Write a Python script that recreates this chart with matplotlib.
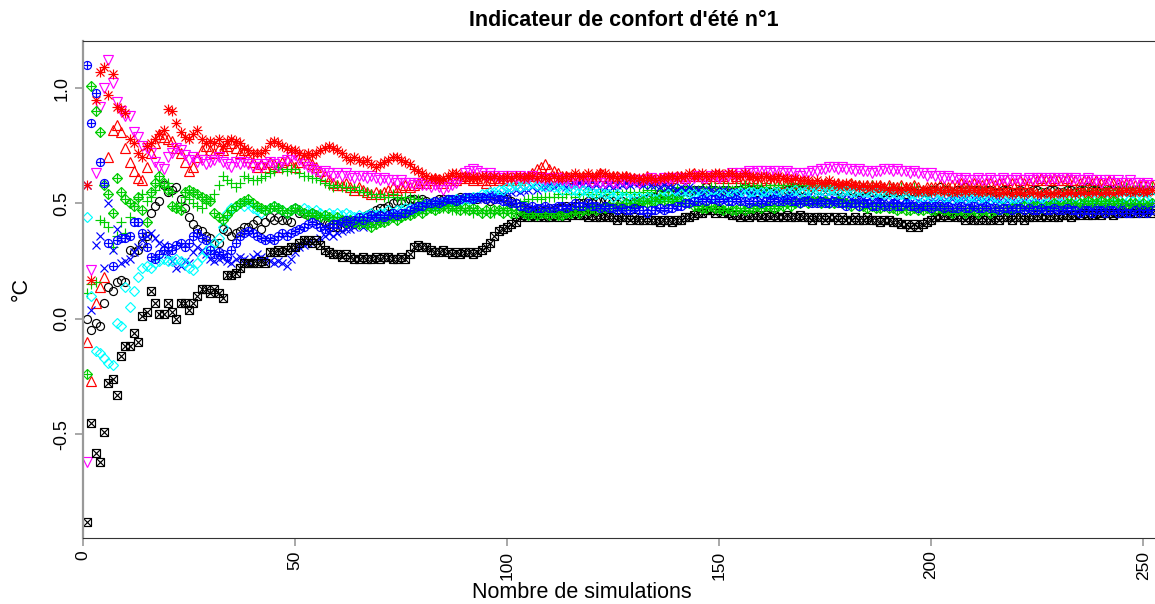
import numpy as np
import matplotlib
matplotlib.use("Agg")
import matplotlib.pyplot as plt

# -------------------------
# Data (running indicator per simulation count, one list per series)
# -------------------------

black_circle = [
    0.00, -0.05, -0.02, -0.03, 0.07, 0.14, 0.12, 0.16, 0.17, 0.16,
    0.30, 0.29, 0.30, 0.33, 0.36, 0.46, 0.49, 0.51, 0.58, 0.55,
    0.56, 0.57, 0.52, 0.48, 0.44, 0.41, 0.39, 0.38, 0.36, 0.35,
    0.33, 0.33, 0.39, 0.38, 0.36, 0.37, 0.38, 0.40, 0.40, 0.41,
    0.43, 0.39, 0.42, 0.44, 0.43, 0.44, 0.43, 0.43, 0.42, 0.48,
    0.46, 0.46, 0.45, 0.46, 0.45, 0.43, 0.42, 0.41, 0.40, 0.40,
    0.40, 0.41, 0.42, 0.41, 0.43, 0.44, 0.45, 0.46, 0.47, 0.48,
    0.48, 0.49, 0.50, 0.51, 0.50, 0.51, 0.52, 0.52, 0.51, 0.52,
    0.51, 0.50, 0.51, 0.52, 0.52, 0.52, 0.51, 0.52, 0.53, 0.52,
    0.52, 0.53, 0.52, 0.53, 0.52, 0.51, 0.52, 0.53, 0.53, 0.52,
    0.51, 0.50, 0.49, 0.48, 0.47, 0.47, 0.46, 0.47, 0.47, 0.48,
    0.47, 0.48, 0.48, 0.49, 0.48, 0.49, 0.50, 0.50, 0.51, 0.50,
    0.51, 0.51, 0.52, 0.51, 0.51, 0.50, 0.51, 0.50, 0.50, 0.51,
    0.51, 0.52, 0.52, 0.53, 0.53, 0.54, 0.54, 0.55, 0.54, 0.55,
    0.55, 0.56, 0.55, 0.56, 0.56, 0.56, 0.57, 0.56, 0.56, 0.55,
    0.56, 0.56, 0.55, 0.56, 0.56, 0.57, 0.56, 0.56, 0.55, 0.56,
    0.55, 0.55, 0.54, 0.55, 0.55, 0.56, 0.56, 0.57, 0.56, 0.56,
    0.56, 0.57, 0.56, 0.56, 0.57, 0.56, 0.56, 0.56, 0.55, 0.56,
    0.56, 0.55, 0.55, 0.56, 0.56, 0.55, 0.55, 0.54, 0.55, 0.55,
    0.56, 0.55, 0.55, 0.54, 0.55, 0.55, 0.56, 0.55, 0.55, 0.56,
    0.56, 0.57, 0.56, 0.56, 0.55, 0.56, 0.56, 0.57, 0.56, 0.56,
    0.56, 0.55, 0.56, 0.56, 0.55, 0.55, 0.56, 0.56, 0.55, 0.55,
    0.56, 0.55, 0.55, 0.56, 0.56, 0.55, 0.55, 0.56, 0.56, 0.55,
    0.55, 0.56, 0.56, 0.55, 0.56, 0.56, 0.57, 0.56, 0.56, 0.56,
    0.55, 0.56, 0.56, 0.57, 0.56, 0.56, 0.55, 0.56, 0.56, 0.55,
    0.56, 0.56,
]

red_triangle = [
    -0.10, -0.27, 0.07, 0.14, 0.18, 0.70, 0.82, 0.84, 0.81, 0.74,
    0.68, 0.64, 0.61, 0.60, 0.66, 0.72, 0.76, 0.80, 0.79, 0.78,
    0.77, 0.74, 0.72, 0.68, 0.64, 0.66, 0.70, 0.73, 0.75, 0.73,
    0.72, 0.74, 0.73, 0.75, 0.76, 0.74, 0.72, 0.73, 0.70, 0.68,
    0.66, 0.67, 0.66, 0.68, 0.67, 0.66, 0.68, 0.69, 0.67, 0.66,
    0.68, 0.70, 0.69, 0.67, 0.66, 0.64, 0.62, 0.60, 0.59, 0.58,
    0.58, 0.59, 0.57, 0.56, 0.57, 0.56, 0.55, 0.54, 0.55, 0.54,
    0.55, 0.56, 0.57, 0.56, 0.57, 0.58, 0.57, 0.58, 0.59, 0.60,
    0.59, 0.60, 0.61, 0.60, 0.59, 0.60, 0.61, 0.60, 0.61, 0.62,
    0.61, 0.60, 0.61, 0.60, 0.59, 0.60, 0.61, 0.60, 0.61, 0.60,
    0.60, 0.61, 0.60, 0.61, 0.62, 0.63, 0.65, 0.66, 0.67, 0.65,
    0.64, 0.63, 0.62, 0.62, 0.61, 0.62, 0.61, 0.62, 0.62, 0.61,
    0.62, 0.63, 0.62, 0.61, 0.62, 0.62, 0.61, 0.62, 0.61, 0.61,
    0.60, 0.61, 0.62, 0.61, 0.60, 0.61, 0.61, 0.60, 0.61, 0.62,
    0.62, 0.61, 0.62, 0.63, 0.62, 0.62, 0.61, 0.62, 0.62, 0.61,
    0.62, 0.61, 0.61, 0.62, 0.61, 0.61, 0.60, 0.61, 0.60, 0.60,
    0.61, 0.60, 0.60, 0.59, 0.60, 0.59, 0.59, 0.60, 0.59, 0.59,
    0.58, 0.59, 0.59, 0.58, 0.59, 0.58, 0.58, 0.59, 0.58, 0.58,
    0.59, 0.58, 0.58, 0.57, 0.58, 0.58, 0.57, 0.58, 0.57, 0.58,
    0.57, 0.57, 0.58, 0.57, 0.57, 0.58, 0.57, 0.56, 0.57, 0.57,
    0.57, 0.58, 0.57, 0.57, 0.58, 0.58, 0.59, 0.58, 0.58, 0.59,
    0.58, 0.58, 0.59, 0.59, 0.58, 0.59, 0.59, 0.60, 0.59, 0.59,
    0.60, 0.59, 0.59, 0.60, 0.60, 0.61, 0.60, 0.60, 0.61, 0.60,
    0.60, 0.61, 0.60, 0.60, 0.59, 0.60, 0.60, 0.59, 0.60, 0.59,
    0.59, 0.60, 0.59, 0.59, 0.58, 0.59, 0.59, 0.58, 0.58, 0.59,
    0.58, 0.58,
]

green_plus = [
    0.11, 0.15, 0.16, 0.43, 0.42, 0.40, 0.31, 0.36, 0.42, 0.37,
    0.44, 0.49, 0.52, 0.54, 0.51, 0.53, 0.56, 0.58, 0.57, 0.59,
    0.55, 0.49, 0.50, 0.53, 0.52, 0.50, 0.49, 0.48, 0.50, 0.52,
    0.54, 0.58, 0.62, 0.60, 0.59, 0.57, 0.59, 0.62, 0.61, 0.60,
    0.60, 0.61, 0.62, 0.63, 0.64, 0.66, 0.65, 0.64, 0.65, 0.65,
    0.63, 0.62, 0.62, 0.61, 0.61, 0.60, 0.59, 0.58, 0.57, 0.58,
    0.57, 0.57, 0.56, 0.57, 0.56, 0.55, 0.55, 0.54, 0.53, 0.54,
    0.53, 0.53, 0.54, 0.53, 0.52, 0.53, 0.53, 0.52, 0.52, 0.51,
    0.50, 0.50, 0.49, 0.49, 0.48, 0.48, 0.47, 0.47, 0.48, 0.47,
    0.47, 0.46, 0.47, 0.46, 0.47, 0.47, 0.46, 0.47, 0.48, 0.48,
    0.49, 0.50, 0.50, 0.51, 0.52, 0.52, 0.53, 0.52, 0.53, 0.53,
    0.53, 0.54, 0.53, 0.54, 0.54, 0.53, 0.54, 0.54, 0.55, 0.54,
    0.54, 0.55, 0.55, 0.54, 0.55, 0.55, 0.54, 0.55, 0.55, 0.54,
    0.55, 0.55, 0.56, 0.55, 0.56, 0.56, 0.55, 0.56, 0.56, 0.57,
    0.56, 0.56, 0.57, 0.56, 0.56, 0.57, 0.56, 0.57, 0.57, 0.56,
    0.57, 0.57, 0.56, 0.57, 0.57, 0.58, 0.57, 0.57, 0.58, 0.57,
    0.57, 0.58, 0.58, 0.57, 0.58, 0.58, 0.59, 0.58, 0.58, 0.59,
    0.58, 0.58, 0.59, 0.58, 0.58, 0.57, 0.58, 0.58, 0.57, 0.58,
    0.58, 0.57, 0.58, 0.57, 0.57, 0.58, 0.57, 0.57, 0.56, 0.57,
    0.57, 0.56, 0.57, 0.56, 0.56, 0.57, 0.56, 0.56, 0.55, 0.56,
    0.56, 0.55, 0.56, 0.56, 0.55, 0.55, 0.56, 0.55, 0.55, 0.56,
    0.55, 0.55, 0.56, 0.55, 0.55, 0.54, 0.55, 0.55, 0.54, 0.55,
    0.55, 0.54, 0.55, 0.55, 0.54, 0.55, 0.55, 0.54, 0.55, 0.55,
    0.55, 0.56, 0.55, 0.55, 0.56, 0.56, 0.55, 0.56, 0.56, 0.55,
    0.56, 0.56, 0.55, 0.56, 0.56, 0.57, 0.56, 0.56, 0.57, 0.56,
    0.56, 0.57,
]

blue_cross = [
    0.58, 0.04, 0.32, 0.36, 0.22, 0.50, 0.30, 0.39, 0.24, 0.25,
    0.26, 0.29, 0.31, 0.34, 0.36, 0.37, 0.35, 0.33, 0.32, 0.28,
    0.25, 0.22, 0.23, 0.25, 0.24, 0.29, 0.31, 0.30, 0.28, 0.26,
    0.25, 0.26, 0.27, 0.25, 0.24, 0.26, 0.27, 0.26, 0.25, 0.27,
    0.28, 0.27, 0.26, 0.25, 0.24, 0.25, 0.24, 0.23, 0.26, 0.29,
    0.31, 0.32, 0.33, 0.33, 0.34, 0.35, 0.36, 0.37, 0.36, 0.37,
    0.38, 0.39, 0.39, 0.40, 0.41, 0.40, 0.41, 0.42, 0.42, 0.43,
    0.43, 0.44, 0.44, 0.45, 0.45, 0.46, 0.46, 0.47, 0.47, 0.48,
    0.48, 0.49, 0.49, 0.50, 0.50, 0.51, 0.50, 0.51, 0.52, 0.52,
    0.52, 0.53, 0.52, 0.53, 0.53, 0.54, 0.54, 0.53, 0.54, 0.55,
    0.55, 0.56, 0.55, 0.56, 0.56, 0.57, 0.56, 0.57, 0.57, 0.58,
    0.57, 0.58, 0.58, 0.57, 0.58, 0.58, 0.59, 0.58, 0.58, 0.57,
    0.58, 0.57, 0.57, 0.58, 0.57, 0.58, 0.58, 0.59, 0.58, 0.59,
    0.59, 0.58, 0.59, 0.58, 0.58, 0.57, 0.58, 0.57, 0.57, 0.56,
    0.57, 0.56, 0.57, 0.56, 0.56, 0.55, 0.56, 0.56, 0.55, 0.55,
    0.56, 0.55, 0.55, 0.54, 0.55, 0.55, 0.54, 0.54, 0.55, 0.54,
    0.54, 0.53, 0.54, 0.54, 0.53, 0.53, 0.54, 0.53, 0.53, 0.52,
    0.53, 0.53, 0.52, 0.52, 0.53, 0.52, 0.52, 0.53, 0.52, 0.52,
    0.52, 0.51, 0.52, 0.52, 0.51, 0.51, 0.52, 0.51, 0.51, 0.50,
    0.51, 0.51, 0.50, 0.51, 0.50, 0.50, 0.51, 0.50, 0.50, 0.51,
    0.51, 0.52, 0.51, 0.51, 0.52, 0.51, 0.52, 0.52, 0.51, 0.52,
    0.52, 0.51, 0.51, 0.52, 0.51, 0.51, 0.50, 0.51, 0.51, 0.50,
    0.50, 0.51, 0.50, 0.50, 0.51, 0.50, 0.50, 0.49, 0.50, 0.50,
    0.49, 0.50, 0.50, 0.49, 0.49, 0.50, 0.49, 0.49, 0.50, 0.49,
    0.49, 0.50, 0.49, 0.49, 0.50, 0.50, 0.49, 0.49, 0.50, 0.49,
    0.49, 0.50,
]

cyan_diamond = [
    0.44, 0.10, -0.14, -0.15, -0.17, -0.19, -0.20, -0.02, -0.03, 0.14,
    0.05, 0.12, 0.18, 0.22, 0.23, 0.22, 0.24, 0.25, 0.26, 0.25,
    0.25, 0.26, 0.25, 0.24, 0.22, 0.21, 0.24, 0.27, 0.29, 0.31,
    0.33, 0.35, 0.40, 0.46, 0.48, 0.49, 0.50, 0.49, 0.50, 0.48,
    0.47, 0.46, 0.47, 0.48, 0.49, 0.48, 0.47, 0.46, 0.47, 0.48,
    0.47, 0.48, 0.47, 0.46, 0.47, 0.46, 0.45, 0.46, 0.45, 0.46,
    0.45, 0.46, 0.45, 0.44, 0.45, 0.44, 0.45, 0.46, 0.45, 0.46,
    0.46, 0.47, 0.46, 0.47, 0.47, 0.48, 0.48, 0.47, 0.48, 0.49,
    0.49, 0.50, 0.49, 0.50, 0.50, 0.51, 0.51, 0.52, 0.51, 0.52,
    0.52, 0.53, 0.53, 0.54, 0.54, 0.55, 0.55, 0.56, 0.56, 0.57,
    0.57, 0.58, 0.57, 0.58, 0.58, 0.59, 0.58, 0.58, 0.57, 0.58,
    0.57, 0.57, 0.56, 0.57, 0.56, 0.56, 0.55, 0.56, 0.55, 0.55,
    0.54, 0.55, 0.54, 0.54, 0.53, 0.54, 0.53, 0.53, 0.52, 0.53,
    0.53, 0.52, 0.53, 0.53, 0.52, 0.53, 0.53, 0.54, 0.53, 0.53,
    0.54, 0.53, 0.54, 0.54, 0.53, 0.54, 0.54, 0.53, 0.53, 0.54,
    0.54, 0.53, 0.54, 0.54, 0.55, 0.54, 0.55, 0.55, 0.54, 0.55,
    0.55, 0.54, 0.55, 0.55, 0.54, 0.55, 0.55, 0.56, 0.55, 0.55,
    0.56, 0.55, 0.56, 0.56, 0.55, 0.56, 0.56, 0.55, 0.55, 0.56,
    0.55, 0.55, 0.56, 0.55, 0.55, 0.54, 0.55, 0.55, 0.54, 0.54,
    0.55, 0.54, 0.54, 0.53, 0.54, 0.54, 0.53, 0.53, 0.54, 0.53,
    0.53, 0.54, 0.53, 0.53, 0.52, 0.53, 0.53, 0.52, 0.53, 0.53,
    0.52, 0.53, 0.52, 0.52, 0.53, 0.52, 0.52, 0.51, 0.52, 0.52,
    0.51, 0.52, 0.52, 0.51, 0.52, 0.52, 0.51, 0.51, 0.52, 0.51,
    0.51, 0.52, 0.52, 0.53, 0.52, 0.53, 0.53, 0.52, 0.53, 0.53,
    0.52, 0.53, 0.53, 0.52, 0.53, 0.53, 0.52, 0.52, 0.53, 0.52,
    0.52, 0.53,
]

magenta_triangle = [
    -0.62, 0.21, 0.63, 0.92, 1.00, 1.12, 1.02, 0.94, 0.90, 0.88,
    0.88, 0.81, 0.79, 0.75, 0.74, 0.72, 0.68, 0.66, 0.65, 0.70,
    0.72, 0.74, 0.73, 0.71, 0.69, 0.70, 0.68, 0.69, 0.67, 0.68,
    0.69, 0.70, 0.68, 0.67, 0.66, 0.68, 0.67, 0.68, 0.67, 0.66,
    0.67, 0.66, 0.67, 0.68, 0.67, 0.66, 0.68, 0.69, 0.70, 0.71,
    0.69, 0.67, 0.66, 0.65, 0.64, 0.63, 0.64, 0.63, 0.62, 0.63,
    0.62, 0.63, 0.62, 0.61, 0.62, 0.62, 0.61, 0.62, 0.61, 0.60,
    0.61, 0.60, 0.60, 0.59, 0.60, 0.59, 0.59, 0.58, 0.59, 0.58,
    0.58, 0.57, 0.58, 0.57, 0.56, 0.57, 0.58, 0.59, 0.61, 0.63,
    0.64, 0.65, 0.64, 0.63, 0.62, 0.63, 0.62, 0.61, 0.62, 0.61,
    0.62, 0.61, 0.62, 0.61, 0.61, 0.62, 0.61, 0.61, 0.60, 0.61,
    0.60, 0.61, 0.60, 0.60, 0.59, 0.60, 0.59, 0.60, 0.60, 0.59,
    0.60, 0.59, 0.59, 0.60, 0.59, 0.59, 0.60, 0.59, 0.60, 0.60,
    0.59, 0.60, 0.60, 0.61, 0.60, 0.60, 0.61, 0.60, 0.61, 0.61,
    0.61, 0.60, 0.61, 0.61, 0.62, 0.61, 0.61, 0.62, 0.62, 0.61,
    0.62, 0.62, 0.63, 0.62, 0.63, 0.63, 0.64, 0.63, 0.64, 0.64,
    0.64, 0.63, 0.64, 0.64, 0.63, 0.64, 0.63, 0.63, 0.62, 0.63,
    0.63, 0.64, 0.64, 0.65, 0.65, 0.66, 0.66, 0.65, 0.66, 0.65,
    0.65, 0.64, 0.65, 0.64, 0.64, 0.63, 0.64, 0.64, 0.65, 0.65,
    0.64, 0.65, 0.64, 0.64, 0.63, 0.64, 0.63, 0.63, 0.62, 0.63,
    0.62, 0.62, 0.61, 0.62, 0.61, 0.61, 0.60, 0.61, 0.60, 0.60,
    0.61, 0.60, 0.60, 0.61, 0.60, 0.60, 0.61, 0.60, 0.60, 0.61,
    0.60, 0.60, 0.61, 0.60, 0.61, 0.61, 0.60, 0.61, 0.61, 0.60,
    0.61, 0.61, 0.60, 0.61, 0.60, 0.60, 0.61, 0.60, 0.60, 0.59,
    0.60, 0.60, 0.59, 0.60, 0.59, 0.59, 0.60, 0.59, 0.59, 0.58,
    0.59, 0.58,
]

black_square = [
    -0.88, -0.45, -0.58, -0.62, -0.49, -0.28, -0.26, -0.33, -0.16, -0.12,
    -0.12, -0.06, -0.10, 0.01, 0.03, 0.12, 0.07, 0.02, 0.02, 0.07,
    0.03, 0.00, 0.07, 0.07, 0.04, 0.07, 0.10, 0.13, 0.13, 0.11,
    0.13, 0.11, 0.09, 0.19, 0.19, 0.20, 0.22, 0.24, 0.24, 0.24,
    0.24, 0.25, 0.24, 0.29, 0.29, 0.30, 0.29, 0.30, 0.31, 0.31,
    0.33, 0.34, 0.34, 0.33, 0.34, 0.32, 0.30, 0.29, 0.28, 0.28,
    0.27, 0.28, 0.27, 0.26, 0.26, 0.27, 0.26, 0.26, 0.27, 0.26,
    0.27, 0.27, 0.26, 0.26, 0.27, 0.26, 0.28, 0.31, 0.32, 0.31,
    0.31, 0.30, 0.29, 0.29, 0.30, 0.29, 0.28, 0.29, 0.28, 0.29,
    0.29, 0.28, 0.29, 0.30, 0.31, 0.33, 0.36, 0.38, 0.39, 0.40,
    0.41, 0.42, 0.44, 0.45, 0.44, 0.45, 0.44, 0.45, 0.44, 0.44,
    0.45, 0.44, 0.45, 0.44, 0.45, 0.46, 0.45, 0.45, 0.44, 0.45,
    0.44, 0.44, 0.45, 0.44, 0.44, 0.43, 0.44, 0.44, 0.43, 0.44,
    0.43, 0.43, 0.44, 0.43, 0.43, 0.42, 0.43, 0.43, 0.42, 0.43,
    0.43, 0.44, 0.44, 0.45, 0.46, 0.46, 0.47, 0.47, 0.46, 0.47,
    0.46, 0.46, 0.45, 0.45, 0.44, 0.45, 0.44, 0.45, 0.45, 0.44,
    0.45, 0.44, 0.45, 0.44, 0.44, 0.45, 0.44, 0.44, 0.45, 0.44,
    0.44, 0.43, 0.44, 0.44, 0.43, 0.44, 0.44, 0.43, 0.44, 0.43,
    0.43, 0.44, 0.43, 0.43, 0.44, 0.43, 0.43, 0.42, 0.43, 0.43,
    0.42, 0.42, 0.41, 0.41, 0.40, 0.41, 0.40, 0.41, 0.42, 0.43,
    0.44, 0.44, 0.45, 0.44, 0.45, 0.44, 0.44, 0.43, 0.44, 0.43,
    0.43, 0.44, 0.43, 0.43, 0.44, 0.43, 0.44, 0.44, 0.43, 0.44,
    0.44, 0.43, 0.44, 0.44, 0.45, 0.44, 0.44, 0.45, 0.44, 0.44,
    0.45, 0.45, 0.44, 0.45, 0.45, 0.46, 0.45, 0.45, 0.46, 0.45,
    0.46, 0.46, 0.45, 0.46, 0.46, 0.47, 0.46, 0.46, 0.47, 0.46,
    0.47, 0.46,
]

red_asterisk = [
    0.58, 0.17, 0.95, 1.07, 1.09, 0.97, 1.06, 0.92, 0.91, 0.89,
    0.78, 0.76, 0.72, 0.70, 0.75, 0.76, 0.78, 0.80, 0.82, 0.91,
    0.90, 0.85, 0.81, 0.79, 0.78, 0.80, 0.82, 0.78, 0.76, 0.77,
    0.76, 0.78, 0.75, 0.77, 0.78, 0.77, 0.76, 0.74, 0.73, 0.72,
    0.72, 0.72, 0.73, 0.76, 0.77, 0.76, 0.75, 0.74, 0.73, 0.73,
    0.72, 0.71, 0.72, 0.71, 0.72, 0.73, 0.74, 0.75, 0.74, 0.73,
    0.72, 0.70, 0.69, 0.70, 0.69, 0.68, 0.69, 0.67, 0.66, 0.67,
    0.68, 0.69, 0.70, 0.70, 0.69, 0.68, 0.67, 0.65, 0.64, 0.63,
    0.62, 0.61, 0.61, 0.60, 0.61, 0.62, 0.63, 0.63, 0.62, 0.62,
    0.61, 0.62, 0.61, 0.62, 0.62, 0.61, 0.62, 0.61, 0.61, 0.62,
    0.61, 0.62, 0.62, 0.61, 0.62, 0.62, 0.61, 0.62, 0.61, 0.61,
    0.62, 0.61, 0.61, 0.62, 0.62, 0.63, 0.62, 0.62, 0.63, 0.62,
    0.62, 0.63, 0.63, 0.62, 0.62, 0.61, 0.62, 0.62, 0.61, 0.61,
    0.61, 0.60, 0.61, 0.61, 0.60, 0.61, 0.61, 0.62, 0.62, 0.61,
    0.62, 0.62, 0.63, 0.62, 0.62, 0.63, 0.62, 0.62, 0.63, 0.63,
    0.62, 0.63, 0.63, 0.62, 0.62, 0.63, 0.62, 0.62, 0.61, 0.62,
    0.62, 0.61, 0.61, 0.62, 0.61, 0.61, 0.60, 0.61, 0.60, 0.60,
    0.60, 0.59, 0.60, 0.59, 0.59, 0.60, 0.59, 0.58, 0.58, 0.59,
    0.58, 0.58, 0.57, 0.58, 0.57, 0.57, 0.58, 0.57, 0.57, 0.56,
    0.57, 0.56, 0.56, 0.57, 0.56, 0.56, 0.55, 0.56, 0.56, 0.55,
    0.56, 0.56, 0.55, 0.56, 0.55, 0.55, 0.56, 0.55, 0.56, 0.56,
    0.55, 0.55, 0.56, 0.55, 0.55, 0.54, 0.55, 0.55, 0.54, 0.55,
    0.55, 0.54, 0.55, 0.55, 0.54, 0.54, 0.55, 0.54, 0.54, 0.55,
    0.54, 0.55, 0.55, 0.54, 0.55, 0.55, 0.54, 0.55, 0.55, 0.54,
    0.55, 0.55, 0.54, 0.55, 0.55, 0.56, 0.55, 0.55, 0.56, 0.55,
    0.55, 0.56,
]

green_diamond = [
    -0.24, 1.01, 0.90, 0.81, 0.58, 0.54, 0.46, 0.61, 0.55, 0.52,
    0.50, 0.49, 0.53, 0.47, 0.42, 0.55, 0.59, 0.62, 0.59, 0.56,
    0.49, 0.48, 0.47, 0.55, 0.56, 0.55, 0.54, 0.53, 0.52, 0.51,
    0.46, 0.44, 0.43, 0.45, 0.47, 0.49, 0.50, 0.51, 0.52, 0.50,
    0.49, 0.48, 0.47, 0.48, 0.49, 0.48, 0.47, 0.46, 0.47, 0.48,
    0.47, 0.46, 0.45, 0.46, 0.45, 0.44, 0.45, 0.44, 0.43, 0.44,
    0.43, 0.42, 0.43, 0.42, 0.41, 0.42, 0.41, 0.40, 0.41, 0.42,
    0.42, 0.43, 0.44, 0.43, 0.44, 0.45, 0.45, 0.46, 0.47, 0.46,
    0.47, 0.48, 0.47, 0.48, 0.49, 0.48, 0.49, 0.48, 0.47, 0.48,
    0.47, 0.48, 0.47, 0.46, 0.47, 0.46, 0.47, 0.47, 0.46, 0.47,
    0.46, 0.46, 0.47, 0.46, 0.45, 0.46, 0.45, 0.46, 0.46, 0.45,
    0.46, 0.45, 0.45, 0.46, 0.46, 0.47, 0.46, 0.47, 0.47, 0.48,
    0.47, 0.48, 0.48, 0.49, 0.48, 0.49, 0.49, 0.50, 0.49, 0.50,
    0.50, 0.51, 0.50, 0.51, 0.51, 0.52, 0.51, 0.51, 0.52, 0.51,
    0.51, 0.50, 0.50, 0.49, 0.49, 0.48, 0.48, 0.49, 0.48, 0.48,
    0.47, 0.48, 0.47, 0.47, 0.48, 0.47, 0.48, 0.48, 0.49, 0.48,
    0.49, 0.49, 0.48, 0.49, 0.49, 0.50, 0.49, 0.50, 0.50, 0.51,
    0.50, 0.51, 0.51, 0.50, 0.51, 0.50, 0.50, 0.51, 0.50, 0.50,
    0.49, 0.50, 0.49, 0.49, 0.48, 0.49, 0.48, 0.48, 0.49, 0.48,
    0.48, 0.47, 0.48, 0.47, 0.47, 0.48, 0.47, 0.47, 0.48, 0.47,
    0.47, 0.48, 0.47, 0.47, 0.46, 0.47, 0.47, 0.46, 0.47, 0.47,
    0.46, 0.47, 0.47, 0.46, 0.47, 0.47, 0.48, 0.47, 0.48, 0.48,
    0.48, 0.49, 0.48, 0.49, 0.49, 0.48, 0.49, 0.49, 0.50, 0.49,
    0.49, 0.50, 0.50, 0.49, 0.50, 0.50, 0.51, 0.50, 0.50, 0.51,
    0.50, 0.50, 0.51, 0.50, 0.50, 0.49, 0.50, 0.50, 0.49, 0.50,
    0.49, 0.50,
]

blue_circle = [
    1.10, 0.85, 0.98, 0.68, 0.59, 0.33, 0.23, 0.34, 0.35, 0.35,
    0.36, 0.42, 0.42, 0.37, 0.31, 0.27, 0.26, 0.28, 0.30, 0.31,
    0.30, 0.32, 0.33, 0.31, 0.33, 0.36, 0.37, 0.35, 0.34, 0.30,
    0.28, 0.29, 0.28, 0.27, 0.30, 0.33, 0.36, 0.37, 0.38, 0.37,
    0.36, 0.35, 0.34, 0.35, 0.34, 0.36, 0.37, 0.36, 0.37, 0.38,
    0.39, 0.40, 0.41, 0.42, 0.41, 0.40, 0.39, 0.40, 0.41, 0.41,
    0.42, 0.43, 0.42, 0.43, 0.44, 0.43, 0.44, 0.45, 0.44, 0.45,
    0.44, 0.45, 0.46, 0.45, 0.46, 0.46, 0.47, 0.48, 0.49, 0.49,
    0.50, 0.50, 0.51, 0.50, 0.51, 0.52, 0.52, 0.51, 0.52, 0.53,
    0.53, 0.52, 0.53, 0.53, 0.52, 0.53, 0.52, 0.52, 0.51, 0.51,
    0.50, 0.50, 0.49, 0.49, 0.48, 0.49, 0.48, 0.48, 0.49, 0.48,
    0.48, 0.49, 0.49, 0.48, 0.49, 0.50, 0.49, 0.49, 0.50, 0.49,
    0.49, 0.48, 0.49, 0.48, 0.48, 0.47, 0.48, 0.47, 0.47, 0.48,
    0.47, 0.47, 0.46, 0.47, 0.47, 0.48, 0.47, 0.48, 0.48, 0.49,
    0.49, 0.50, 0.50, 0.51, 0.51, 0.52, 0.51, 0.52, 0.52, 0.51,
    0.52, 0.51, 0.51, 0.52, 0.51, 0.51, 0.50, 0.51, 0.51, 0.50,
    0.51, 0.51, 0.52, 0.51, 0.51, 0.52, 0.51, 0.51, 0.50, 0.51,
    0.51, 0.50, 0.50, 0.51, 0.50, 0.50, 0.51, 0.50, 0.50, 0.49,
    0.50, 0.50, 0.49, 0.50, 0.50, 0.49, 0.49, 0.50, 0.49, 0.49,
    0.50, 0.49, 0.49, 0.50, 0.49, 0.49, 0.48, 0.49, 0.49, 0.48,
    0.49, 0.49, 0.48, 0.49, 0.48, 0.48, 0.49, 0.48, 0.48, 0.49,
    0.48, 0.48, 0.49, 0.48, 0.48, 0.47, 0.48, 0.48, 0.47, 0.48,
    0.48, 0.47, 0.48, 0.47, 0.47, 0.48, 0.47, 0.47, 0.48, 0.47,
    0.47, 0.48, 0.47, 0.47, 0.46, 0.47, 0.47, 0.46, 0.47, 0.47,
    0.46, 0.47, 0.47, 0.46, 0.47, 0.46, 0.46, 0.47, 0.46, 0.47,
    0.46, 0.47,
]

x_ticks = [0, 50, 100, 150, 200, 250]
y_ticks = [-0.5, 0.0, 0.5, 1.0]
title = "Indicateur de confort d'été n°1"
x_label = "Nombre de simulations"
y_label = "°C"

# -------------------------
# Style (R base graphics look, default R palette)
# -------------------------

plt.rcParams["font.family"] = ["Liberation Sans", "DejaVu Sans"]

R_BLACK = "#000000"
R_RED = "#FF0000"
R_GREEN = "#00CD00"
R_BLUE = "#0000FF"
R_CYAN = "#00FFFF"
R_MAGENTA = "#FF00FF"

MS = 5.8
MEW = 0.85

# each entry: data, color, list of (marker, size factor) overlaid to mimic R pch
series = [
    (black_circle, R_BLACK, [("o", 1.0)]),
    (red_triangle, R_RED, [("^", 1.15)]),
    (green_plus, R_GREEN, [("+", 1.35)]),
    (blue_cross, R_BLUE, [("x", 1.0)]),
    (cyan_diamond, R_CYAN, [("D", 0.95)]),
    (magenta_triangle, R_MAGENTA, [("v", 1.15)]),
    (black_square, R_BLACK, [("s", 1.0), ("x", 0.9)]),
    (red_asterisk, R_RED, [("+", 1.3), ("x", 0.95)]),
    (green_diamond, R_GREEN, [("D", 0.95), ("+", 1.2)]),
    (blue_circle, R_BLUE, [("o", 1.0), ("+", 1.0)]),
]

# -------------------------
# Plot
# -------------------------

W, H = 1155, 604
fig = plt.figure(figsize=(W / 100, H / 100), dpi=100)
ax = fig.add_axes([83 / W, 66 / H, 1.0 - 83 / W, (538 - 41) / H])

for values, color, markers in series:
    x = np.arange(1, len(values) + 1)
    for marker, scale in markers:
        ax.plot(
            x, values,
            linestyle="none",
            marker=marker,
            markersize=MS * scale,
            markerfacecolor="none",
            markeredgecolor=color,
            markeredgewidth=MEW,
        )

ax.set_xlim(0, 252.8)
ax.set_ylim(-0.95, 1.204)

ax.set_xticks(x_ticks)
ax.set_xticklabels([str(t) for t in x_ticks], rotation=90, fontsize=12.5)
ax.set_yticks(y_ticks)
ax.set_yticklabels([f"{t:.1f}" for t in y_ticks], rotation=90, fontsize=13, va="center")

ax.tick_params(axis="both", direction="out", length=6, color="#999999", width=1.2, pad=3)

ax.spines["right"].set_visible(False)
ax.spines["top"].set_color("#333333")
ax.spines["bottom"].set_color("#333333")
ax.spines["left"].set_color("#999999")
ax.spines["left"].set_linewidth(1.6)

# titles placed where the reference has them
fig.text(624 / W, 1 - 21 / H, title, fontsize=15.5, fontweight="bold",
         ha="center", va="center")
fig.text(582 / W, 1 - 593 / H, x_label, fontsize=15.5, ha="center", va="center")
fig.text(21 / W, 1 - 289 / H, y_label, fontsize=15.5, rotation=90,
         ha="center", va="center")

fig.savefig("out.png", dpi=100)
